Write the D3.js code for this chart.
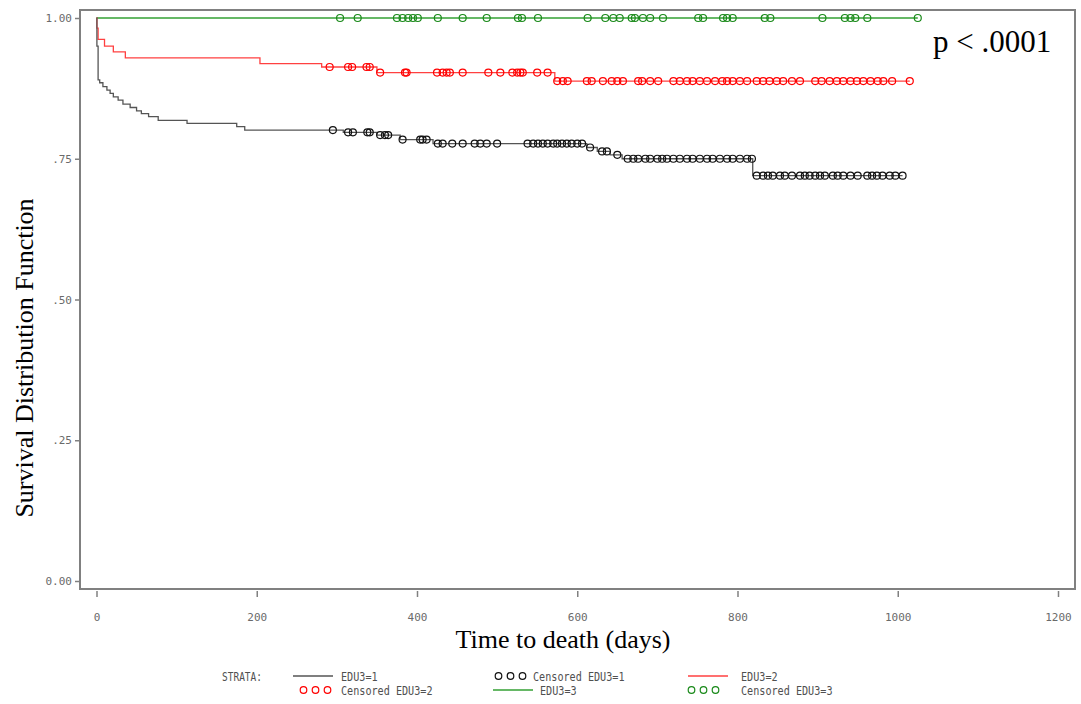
<!DOCTYPE html>
<html>
<head>
<meta charset="utf-8">
<script src="https://cdn.jsdelivr.net/npm/d3@7"></script>
<style>
  body { margin: 0; background: #fff; }
  .tick text { font-family: "DejaVu Sans Mono", monospace; font-size: 11px; fill: #6a6a6a; }
  .tick line { stroke: #808080; stroke-width: 1.5; }
  .leg { font-family: "DejaVu Sans Mono", monospace; font-size: 12.5px; fill: #505050; }
</style>
</head>
<body>
<svg id="chart"></svg>
<script>
// survival data (days, survival)
var edu1Times = [0, 0.5, 2, 4, 8, 13, 17, 21, 27, 33, 42, 50, 56, 65, 77, 113, 175, 185, 308, 350, 379, 420, 612, 625, 641, 656, 819];
var edu1Surv  = [1.0, 0.95, 0.89, 0.885, 0.878, 0.872, 0.866, 0.860, 0.854, 0.847, 0.841, 0.835, 0.830, 0.825, 0.818, 0.813, 0.807, 0.801, 0.797, 0.792, 0.784, 0.777, 0.770, 0.763, 0.757, 0.750, 0.720];
var edu1Censor = [295, 314, 320, 338, 341, 354, 360, 364, 382, 404, 407, 412, 426, 432, 444, 457, 472, 479, 487, 500,
  538, 545, 551, 557, 563, 570, 575, 581, 587, 593, 600, 606, 616, 631, 637, 650, 663, 670, 676, 685, 691, 700, 706,
  712, 720, 728, 737, 744, 753, 762, 769, 778, 787, 794, 803, 812, 818, 824, 832, 838, 844, 853, 859, 868, 878, 884,
  890, 897, 903, 909, 919, 925, 932, 941, 950, 962, 968, 974, 981, 990, 997, 1006];

var edu2Times = [0, 0.5, 2, 10, 21, 36, 204, 281, 350, 572];
var edu2Surv  = [1.0, 0.982, 0.962, 0.950, 0.940, 0.929, 0.919, 0.913, 0.903, 0.888];
var edu2Censor = [291, 314, 319, 337, 341, 354, 385, 387, 425, 432, 437, 441, 457, 489, 504, 519, 525, 529, 532, 550,
  563, 575, 582, 588, 612, 618, 632, 643, 650, 657, 676, 681, 691, 701, 720, 728, 737, 744, 753, 762, 772, 781, 787,
  794, 803, 812, 824, 832, 840, 849, 857, 868, 878, 897, 905, 915, 924, 932, 941, 949, 957, 966, 975, 982, 993, 1015];

var edu3Times = [0];
var edu3Surv  = [1.0];
var edu3Censor = [304, 326, 375, 382, 389, 395, 401, 426, 457, 487, 526, 531, 551, 613, 635, 645, 653, 668, 672, 682,
  691, 707, 751, 757, 782, 787, 794, 834, 841, 906, 934, 941, 947, 962, 1025];

var xTicks = [0, 200, 400, 600, 800, 1000, 1200];
var yTicks = [0, 0.25, 0.5, 0.75, 1.0];
var yTickLabels = ["0.00", ".25", ".50", ".75", "1.00"];

var W = 1081, H = 704;
var svg = d3.select("#chart").attr("width", W).attr("height", H);

var x = d3.scaleLinear().domain([0, 1200]).range([96.5, 1058]);
var y = d3.scaleLinear().domain([0, 1]).range([581, 18]);

// frame
svg.append("rect")
    .attr("x", 80).attr("y", 10)
    .attr("width", 995).attr("height", 579)
    .attr("fill", "none")
    .attr("stroke", "#808080")
    .attr("stroke-width", 2);

var yAxis = svg.append("g")
    .attr("transform", "translate(80,0)")
    .call(d3.axisLeft(y).tickValues(yTicks).tickSize(5).tickPadding(3)
        .tickFormat(function(d, i) { return yTickLabels[i]; }));
yAxis.select(".domain").remove();

var xAxis = svg.append("g")
    .attr("transform", "translate(0,591)")
    .call(d3.axisBottom(x).tickValues(xTicks).tickSize(6).tickPadding(16).tickFormat(d3.format("d")));
xAxis.select(".domain").remove();

function stepData(times, surv, end) {
    var pts = times.map(function(t, i) { return [t, surv[i]]; });
    pts.push([end, surv[surv.length - 1]]);
    return pts;
}

function survAt(times, surv, t) {
    var i = d3.bisectRight(times, t) - 1;
    return surv[Math.max(i, 0)];
}

var line = d3.line()
    .x(function(d) { return x(d[0]); })
    .y(function(d) { return y(d[1]); })
    .curve(d3.curveStepAfter);

var strata = [
    { times: edu3Times, surv: edu3Surv, cens: edu3Censor, color: "#33a033", cColor: "#1a8a1a" },
    { times: edu2Times, surv: edu2Surv, cens: edu2Censor, color: "#ff4040", cColor: "#ff0000" },
    { times: edu1Times, surv: edu1Surv, cens: edu1Censor, color: "#555555", cColor: "#111111" }
];

strata.forEach(function(s) {
    var end = s.cens[s.cens.length - 1];
    svg.append("path")
        .datum(stepData(s.times, s.surv, end))
        .attr("d", line)
        .attr("fill", "none")
        .attr("stroke", s.color)
        .attr("stroke-width", 1.3);

    svg.append("g").selectAll("circle")
        .data(s.cens)
        .enter().append("circle")
        .attr("cx", function(d) { return x(d); })
        .attr("cy", function(d) { return y(survAt(s.times, s.surv, d)); })
        .attr("r", 3.5)
        .attr("fill", "none")
        .attr("stroke", s.cColor)
        .attr("stroke-width", 1.2);
});

// titles
svg.append("text")
    .attr("transform", "translate(33,358) rotate(-90)")
    .attr("text-anchor", "middle")
    .style("font-family", "Liberation Serif, serif")
    .style("font-size", "26px")
    .text("Survival Distribution Function");

svg.append("text")
    .attr("x", 563).attr("y", 648)
    .attr("text-anchor", "middle")
    .style("font-family", "Liberation Serif, serif")
    .style("font-size", "26px")
    .text("Time to death (days)");

svg.append("text")
    .attr("x", 933).attr("y", 52)
    .style("font-family", "Liberation Serif, serif")
    .style("font-size", "31px")
    .text("p < .0001");

// legend
var legend = svg.append("g");
legend.append("text").attr("class", "leg").attr("x", 222).attr("y", 681)
    .attr("textLength", 40).attr("lengthAdjust", "spacingAndGlyphs").text("STRATA:");

var legItems = [
    { kind: "line", color: "#555555", label: "EDU3=1", x: 293, tx: 341, y: 676 },
    { kind: "circ", color: "#111111", label: "Censored EDU3=1", x: 495, tx: 533, y: 676 },
    { kind: "line", color: "#ff4040", label: "EDU3=2", x: 688, tx: 741, y: 676 },
    { kind: "circ", color: "#ff0000", label: "Censored EDU3=2", x: 300, tx: 341, y: 690 },
    { kind: "line", color: "#33a033", label: "EDU3=3", x: 493, tx: 540, y: 690 },
    { kind: "circ", color: "#1a8a1a", label: "Censored EDU3=3", x: 688, tx: 741, y: 690 }
];

legItems.forEach(function(it) {
    if (it.kind === "line") {
        legend.append("line")
            .attr("x1", it.x).attr("x2", it.x + 40)
            .attr("y1", it.y).attr("y2", it.y)
            .attr("stroke", it.color).attr("stroke-width", 1.5);
    } else {
        [0, 1, 2].forEach(function(k) {
            legend.append("circle")
                .attr("cx", it.x + 3.5 + k * 12).attr("cy", it.y)
                .attr("r", 3.3).attr("fill", "none")
                .attr("stroke", it.color).attr("stroke-width", 1.2);
        });
    }
    legend.append("text").attr("class", "leg")
        .attr("x", it.tx).attr("y", it.y + 5)
        .attr("textLength", it.label.length * 6.1).attr("lengthAdjust", "spacingAndGlyphs")
        .text(it.label);
});
</script>
</body>
</html>
